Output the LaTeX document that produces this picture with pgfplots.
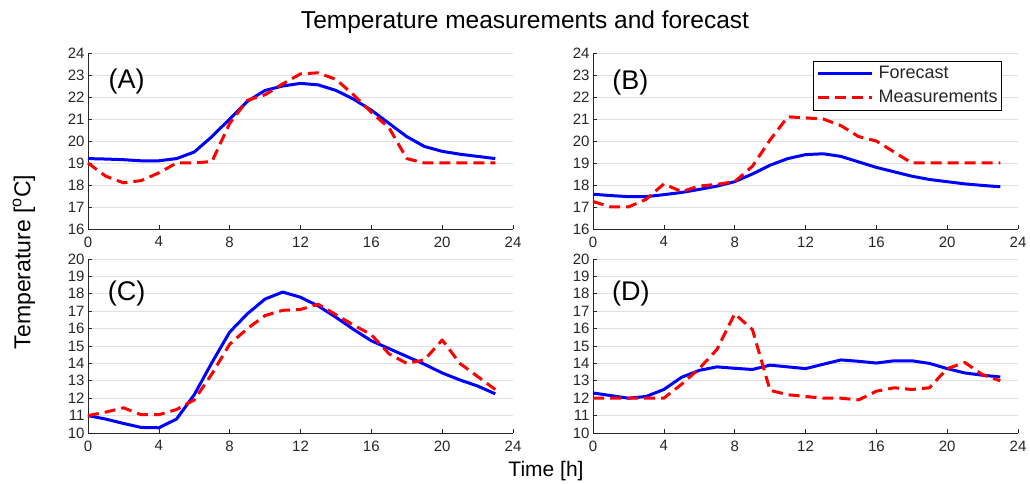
\documentclass[border=0pt]{standalone}
\usepackage{fontspec}
\setmainfont{Liberation Sans}
\usepackage{pgfplots}
\pgfplotsset{compat=1.18}
\definecolor{txt}{gray}{0.15}
\definecolor{gridc}{gray}{0.88}
\tikzset{plab/.style={font=\fontsize{27}{30}\selectfont, text=black, anchor=base}}
\pgfplotsset{
  panel/.style={
    scale only axis, width=425pt,
    xmin=0, xmax=24, xtick={0,4,...,24},
    axis x line*=bottom, axis y line*=left,
    axis line style={draw=txt, line width=0.6pt, -},
    tick style={draw=txt, line width=0.6pt},
    tick align=inside, major tick length=4pt,
    ymajorgrids, grid style={draw=gridc, line width=0.8pt},
    tick label style={font=\fontsize{15}{17}\selectfont, text=txt},
    /pgf/number format/assume math mode=true,
    xticklabel style={yshift=-4pt},
    clip=false,
    legend image code/.code={\draw[#1] (0pt,0pt) -- (54pt,0pt); \path (58pt,0pt);},
  },
  fc/.style={blue, line width=3pt, line join=round, mark=none},
  ms/.style={red, line width=3pt, line join=round, dash pattern=on 11pt off 6pt, mark=none},
}
\begin{document}
\begin{tikzpicture}
\useasboundingbox (0,0) rectangle (1030pt,484pt);
% (A)
\begin{axis}[panel, at={(88pt,255pt)}, anchor=south west, height=176pt,
  ymin=16, ymax=24, ytick={16,17,...,24}]
\addplot[fc] coordinates {(0,19.2)(1,19.18)(2,19.15)(3,19.1)(4,19.1)(5,19.2)(6,19.5)(7,20.2)(8,21.0)(9,21.8)(10,22.3)(11,22.5)(12,22.62)(13,22.55)(14,22.3)(15,21.9)(16,21.4)(17,20.8)(18,20.2)(19,19.75)(20,19.53)(21,19.4)(22,19.3)(23,19.2)};
\addplot[ms] coordinates {(0,19.0)(1,18.4)(2,18.1)(3,18.2)(4,18.55)(5,19.0)(6,19.0)(7,19.07)(8,20.8)(9,21.85)(10,22.1)(11,22.6)(12,23.05)(13,23.1)(14,22.8)(15,22.1)(16,21.3)(17,20.6)(18,19.2)(19,19.0)(20,19.0)(21,19.0)(22,19.0)(23,19.0)};
\node[plab] at (rel axis cs:0.0906,0.801) {(A)};
\end{axis}
% (B)
\begin{axis}[panel, at={(593pt,255pt)}, anchor=south west, height=176pt,
  ymin=16, ymax=24, ytick={16,17,...,24},
  legend style={at={(0.9624,0.9545)}, anchor=north east, draw=black, line width=0.6pt,
    font=\fontsize{18}{21}\selectfont, text=txt, inner sep=2.5pt,
    row sep=4pt, nodes={inner sep=1.5pt, text height=13pt, text depth=4pt}},
  legend cell align=left]
\addplot[fc] coordinates {(0,17.58)(1,17.52)(2,17.47)(3,17.47)(4,17.56)(5,17.66)(6,17.8)(7,17.95)(8,18.15)(9,18.5)(10,18.9)(11,19.2)(12,19.38)(13,19.42)(14,19.3)(15,19.05)(16,18.8)(17,18.6)(18,18.4)(19,18.25)(20,18.15)(21,18.05)(22,17.98)(23,17.92)};
\addlegendentry{Forecast}
\addplot[ms] coordinates {(0,17.25)(1,17.0)(2,17.0)(3,17.35)(4,18.05)(5,17.7)(6,17.95)(7,18.03)(8,18.15)(9,18.85)(10,20.05)(11,21.1)(12,21.05)(13,21.0)(14,20.7)(15,20.2)(16,20.0)(17,19.5)(18,19.0)(19,19.0)(20,19.0)(21,19.0)(22,19.0)(23,19.0)};
\addlegendentry{Measurements}
\node[plab] at (rel axis cs:0.088,0.79) {(B)};
\end{axis}
% (C)
\begin{axis}[panel, at={(88pt,51pt)}, anchor=south west, height=174pt,
  ymin=10, ymax=20, ytick={10,11,...,20}]
\addplot[fc] coordinates {(0,11.0)(1,10.8)(2,10.55)(3,10.32)(4,10.3)(5,10.8)(6,12.2)(7,14.05)(8,15.8)(9,16.85)(10,17.7)(11,18.1)(12,17.8)(13,17.3)(14,16.65)(15,15.95)(16,15.3)(17,14.85)(18,14.4)(19,13.95)(20,13.45)(21,13.05)(22,12.7)(23,12.25)};
\addplot[ms] coordinates {(0,11.0)(1,11.2)(2,11.45)(3,11.05)(4,11.05)(5,11.35)(6,11.9)(7,13.4)(8,15.1)(9,16.0)(10,16.75)(11,17.05)(12,17.1)(13,17.4)(14,16.8)(15,16.2)(16,15.65)(17,14.55)(18,14.0)(19,14.2)(20,15.35)(21,14.0)(22,13.25)(23,12.5)};
\node[plab] at (rel axis cs:0.0906,0.764) {(C)};
\end{axis}
% (D)
\begin{axis}[panel, at={(593pt,51pt)}, anchor=south west, height=174pt,
  ymin=10, ymax=20, ytick={10,11,...,20}]
\addplot[fc] coordinates {(0,12.3)(1,12.15)(2,12.0)(3,12.1)(4,12.5)(5,13.2)(6,13.6)(7,13.8)(8,13.72)(9,13.65)(10,13.9)(11,13.8)(12,13.7)(13,13.95)(14,14.2)(15,14.12)(16,14.02)(17,14.15)(18,14.15)(19,14.0)(20,13.7)(21,13.45)(22,13.32)(23,13.22)};
\addplot[ms] coordinates {(0,12.0)(1,12.0)(2,12.0)(3,12.0)(4,12.0)(5,12.8)(6,13.7)(7,14.8)(8,16.85)(9,15.95)(10,12.45)(11,12.2)(12,12.1)(13,12.0)(14,12.0)(15,11.9)(16,12.4)(17,12.6)(18,12.5)(19,12.6)(20,13.7)(21,14.05)(22,13.35)(23,13.0)};
\node[plab] at (rel axis cs:0.089,0.764) {(D)};
\end{axis}
% titles and labels
\node[anchor=base, font=\fontsize{24.5}{28}\selectfont, text=black] at (525pt,455pt) {Temperature measurements and forecast};
\node[anchor=base, font=\fontsize{21}{25}\selectfont, text=black] at (546pt,7pt) {Time [h]};
\node[rotate=90, font=\fontsize{23}{27}\selectfont, text=black] at (24pt,222pt) {Temperature [$^{\mathrm{o}}$C]};
\end{tikzpicture}
\end{document}
